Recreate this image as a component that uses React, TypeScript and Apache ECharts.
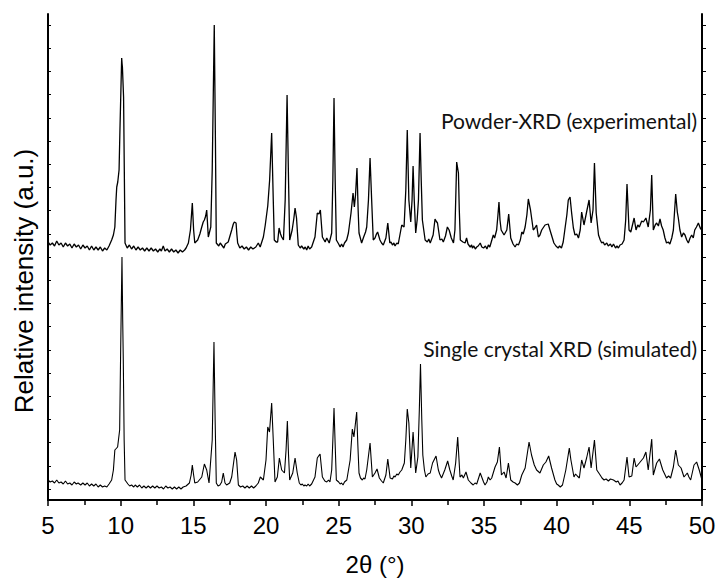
import React, { useEffect, useRef } from "react";
import * as echarts from "echarts";

// 2θ (°) vs relative intensity (a.u.)
const powderPattern: [number, number][] = [
  [5.0,258],[5.15,255],[5.3,257],[5.45,254],[5.6,259],[5.75,255],[5.9,257],[6.05,253],[6.2,257],[6.35,254],[6.5,256],[6.65,252],[6.8,256],[6.95,253],[7.1,255],[7.25,251],[7.4,255],[7.55,252],[7.7,254],[7.85,250],[8.0,254],[8.15,250],[8.3,253],[8.45,250],[8.6,253],[8.75,249],[8.9,252],[9.05,250],[9.2,254],
  [9.38,260],[9.5,265],[9.6,273],[9.68,300],[9.73,313],[9.8,318],[9.89,330],[9.95,370],[10.07,442],[10.1,436],[10.12,433],[10.2,403],[10.25,330],[10.3,257],
  [10.45,252],[10.6,255],[10.75,251],[10.9,254],[11.05,250],[11.2,253],[11.35,250],[11.5,252],[11.65,249],[11.8,252],[11.95,249],[12.1,252],[12.25,249],[12.4,251],[12.55,248],[12.7,251],[12.8,249],[12.93,254],[13.05,249],[13.2,251],[13.35,248],[13.5,251],[13.65,248],[13.8,250],[13.95,247],[14.1,250],[14.25,248],[14.4,250],[14.5,252],
  [14.66,257],[14.8,270],[14.93,297],[15.02,270],[15.1,257],[15.3,260],[15.45,266],[15.58,273],[15.68,278],[15.76,280],[15.85,284],[15.92,290],[15.97,278],[16.03,263],
  [16.2,273],[16.3,330],[16.44,475],[16.52,360],[16.58,257],[16.75,254],[16.85,257],[16.95,255],[17.1,252],[17.2,256],[17.4,258],[17.64,270],[17.75,276],[17.82,278],[17.94,277],[18.0,265],[18.05,257],
  [18.2,252],[18.35,254],[18.5,251],[18.65,253],[18.8,250],[18.95,253],[19.1,251],[19.3,253],[19.47,257],[19.6,253],[19.82,263],[19.95,275],[20.12,294],[20.25,320],[20.39,367],[20.5,300],[20.57,260],
  [20.7,258],[20.8,258],[20.9,272],[21.0,266],[21.08,263],[21.2,260],[21.32,300],[21.45,405],[21.55,320],[21.63,260],[21.8,270],[21.92,282],[22.0,292],[22.1,282],[22.22,255],
  [22.35,252],[22.45,254],[22.6,251],[22.7,253],[22.8,250],[22.9,254],[23.0,251],[23.14,253],[23.37,263],[23.53,287],[23.64,286],[23.74,290],[23.88,263],[24.07,258],[24.18,262],[24.35,257],[24.52,267],[24.6,320],[24.68,402],[24.76,320],[24.84,260],
  [25.0,256],[25.1,253],[25.2,256],[25.3,253],[25.4,257],[25.55,260],[25.67,267],[25.85,287],[25.99,307],[26.08,293],[26.16,305],[26.26,332],[26.34,290],[26.4,267],[26.58,257],[26.72,263],[26.85,268],[26.93,273],
  [27.05,300],[27.16,342],[27.27,300],[27.38,260],[27.5,262],[27.6,266],[27.68,268],[27.84,260],[27.95,257],[28.07,255],[28.25,262],[28.38,277],[28.52,257],[28.6,258],[28.7,255],[28.8,257],[28.88,254],[29.0,257],[29.1,256],
  [29.34,275],[29.5,273],[29.62,310],[29.72,370],[29.83,300],[29.96,278],[30.05,300],[30.12,334],[30.2,300],[30.3,267],[30.4,280],[30.49,300],[30.6,367],[30.68,320],[30.76,280],
  [30.95,260],[31.1,258],[31.2,261],[31.3,257],[31.5,265],[31.63,281],[31.7,279],[31.8,277],[31.97,260],[32.1,261],[32.2,258],[32.35,264],[32.48,273],[32.6,270],[32.75,262],[32.9,257],
  [33.0,270],[33.12,338],[33.24,327],[33.3,290],[33.37,260],[33.55,258],[33.7,257],[33.8,262],[33.9,256],[34.05,253],[34.15,255],[34.2,252],[34.3,254],[34.4,251],[34.5,253],[34.6,254],[34.74,257],[34.85,253],[34.97,252],
  [35.1,254],[35.2,251],[35.3,255],[35.4,253],[35.5,258],[35.64,265],[35.73,262],[35.87,270],[35.96,285],[36.03,298],[36.1,280],[36.18,270],[36.38,265],[36.57,270],[36.7,286],[36.84,262],[37.0,256],[37.14,253],
  [37.25,256],[37.37,255],[37.5,260],[37.6,268],[37.7,266],[37.83,273],[37.95,285],[38.05,301],[38.2,290],[38.39,270],[38.5,272],[38.62,275],[38.74,263],[38.85,265],[38.97,270],[39.2,275],[39.42,276],[39.58,268],[39.81,257],
  [39.95,254],[40.1,252],[40.2,254],[40.33,252],[40.45,258],[40.56,270],[40.7,285],[40.8,300],[40.92,303],[41.03,287],[41.15,272],[41.26,265],[41.38,266],[41.5,262],[41.62,270],[41.72,288],[41.88,275],[42.06,288],[42.23,300],[42.37,277],[42.5,290],
  [42.6,337],[42.72,287],[42.88,265],[43.0,260],[43.1,257],[43.2,258],[43.3,255],[43.45,257],[43.55,254],[43.7,256],[43.8,253],[43.91,256],[44.05,252],[44.15,254],[44.25,252],[44.36,255],[44.5,256],[44.64,260],[44.75,280],[44.84,316],[44.98,270],[45.1,268],
  [45.2,274],[45.33,282],[45.46,270],[45.58,275],[45.69,273],[45.85,279],[45.97,278],[46.14,282],[46.3,273],[46.45,290],[46.54,325],[46.65,270],[46.78,275],[46.88,277],[47.0,274],[47.11,281],[47.22,274],[47.33,270],[47.45,262],[47.56,257],[47.68,258],[47.79,256],
  [47.92,262],[48.03,270],[48.19,306],[48.3,288],[48.37,282],[48.48,270],[48.6,263],[48.72,267],[48.83,265],[48.95,260],[49.06,257],[49.18,262],[49.29,265],[49.4,262],[49.5,270],[49.62,273],[49.75,277],[49.88,272],[49.98,270],[50.0,252]
];

const simulatedPattern: [number, number][] = [
  [5.0,20],[5.15,18],[5.3,19],[5.45,17],[5.6,20],[5.75,17],[5.9,18],[6.05,16],[6.2,19],[6.35,16],[6.5,17],[6.65,15],[6.8,18],[6.95,16],[7.07,17],[7.25,15],[7.4,17],[7.55,15],[7.7,17],[7.85,14],[8.0,16],[8.15,14],[8.3,16],[8.45,13],[8.6,15],[8.75,13],[8.9,14],[9.05,13],[9.2,16],
  [9.38,20],[9.5,30],[9.6,50],[9.79,53],[9.93,70],[10.0,150],[10.09,243],[10.14,180],[10.18,140],[10.24,60],[10.3,20],
  [10.5,16],[10.62,14],[10.75,15],[10.9,13],[11.0,15],[11.15,13],[11.3,15],[11.45,12],[11.6,14],[11.75,12],[11.9,14],[12.05,12],[12.2,14],[12.35,12],[12.5,14],[12.65,12],[12.8,13],[12.95,11],[13.1,14],[13.25,12],[13.4,13],[13.55,11],[13.7,13],[13.85,11],[14.0,13],[14.15,11],[14.3,13],[14.5,14],
  [14.73,17],[14.85,25],[14.93,35],[15.02,25],[15.1,17],[15.3,18],[15.58,23],[15.76,36],[15.92,30],[16.08,17],[16.3,60],[16.42,158],[16.5,80],[16.58,17],
  [16.7,14],[16.83,15],[16.95,18],[17.06,27],[17.18,17],[17.29,15],[17.5,17],[17.64,23],[17.87,48],[17.98,40],[18.1,15],[18.25,13],[18.4,14],[18.55,12],[18.7,14],[18.85,12],[19.0,14],[19.15,12],[19.3,14],[19.47,17],[19.61,23],[19.82,20],
  [20.0,40],[20.12,73],[20.24,68],[20.39,97],[20.5,60],[20.62,18],[20.78,23],[20.92,42],[21.08,30],[21.27,27],[21.38,50],[21.47,79],[21.55,45],[21.63,20],
  [21.84,27],[22.0,42],[22.15,27],[22.29,17],[22.4,15],[22.5,16],[22.6,14],[22.68,15],[22.8,14],[22.9,16],[23.0,14],[23.14,16],[23.37,23],[23.53,42],[23.62,44],[23.72,46],[23.88,23],[24.05,19],[24.18,18],[24.3,20],[24.4,18],
  [24.52,30],[24.6,60],[24.68,92],[24.76,55],[24.84,20],[25.0,18],[25.1,16],[25.2,17],[25.3,15],[25.4,18],[25.56,20],[25.79,40],[25.94,71],[26.05,63],[26.24,88],[26.32,55],[26.4,27],
  [26.5,22],[26.63,20],[26.72,22],[26.81,21],[26.93,30],[27.16,57],[27.32,23],[27.5,27],[27.64,31],[27.8,22],[27.95,19],[28.07,17],[28.25,25],[28.38,41],[28.54,22],[28.7,21],[28.8,24],[28.88,23],[29.0,26],[29.1,25],
  [29.22,28],[29.34,30],[29.52,37],[29.62,60],[29.72,91],[29.83,77],[29.96,32],[30.12,68],[30.3,27],[30.45,43],[30.55,90],[30.63,136],[30.72,80],[30.79,45],[30.9,30],[31.0,23],
  [31.15,26],[31.3,27],[31.46,37],[31.7,44],[31.86,30],[31.95,26],[32.08,22],[32.3,30],[32.5,39],[32.65,30],[32.78,24],[32.88,20],[33.05,37],[33.19,63],[33.35,23],[33.48,25],[33.58,22],[33.76,28],[33.92,20],
  [34.1,17],[34.26,15],[34.38,17],[34.5,16],[34.74,27],[34.97,18],[35.07,15],[35.2,18],[35.3,23],[35.42,20],[35.53,22],[35.76,33],[35.92,38],[36.06,53],[36.2,25],[36.38,28],[36.52,22],[36.68,37],[36.84,20],
  [37.0,18],[37.14,17],[37.3,15],[37.44,17],[37.6,25],[37.83,32],[38.1,58],[38.27,45],[38.46,35],[38.62,30],[38.85,27],[39.08,35],[39.26,38],[39.45,44],[39.65,32],[39.88,20],
  [40.0,16],[40.1,15],[40.25,13],[40.4,15],[40.63,30],[40.87,52],[40.98,40],[41.19,23],[41.3,26],[41.42,24],[41.56,22],[41.72,40],[41.88,32],[42.06,42],[42.23,53],[42.37,32],[42.6,60],[42.76,30],
  [42.99,25],[43.12,22],[43.26,20],[43.4,21],[43.56,19],[43.7,21],[43.91,20],[44.1,18],[44.22,19],[44.36,15],[44.5,17],[44.64,20],[44.84,43],[44.98,23],[45.17,24],[45.33,42],[45.46,33],[45.69,37],[45.97,42],[46.14,48],
  [46.3,30],[46.54,61],[46.65,25],[46.88,37],[47.07,41],[47.3,30],[47.56,22],[47.7,24],[47.84,22],[48.03,33],[48.19,50],[48.37,35],[48.56,32],[48.76,23],[48.99,27],[49.1,23],[49.22,20],
  [49.45,35],[49.63,38],[49.81,30],[50.0,20]
];

const yTickValues = [11, 34.2, 57.4, 80.6, 103.8, 127, 150.2, 173.4, 196.6, 219.8, 243, 266.2, 289.4, 312.6, 335.8, 359, 382.2, 405.4, 428.6, 451.8, 475];
const seriesLabels = ["Powder-XRD (experimental)", "Single crystal XRD (simulated)"];
const yAxisTitle = "Relative intensity (a.u.)";
const xAxisTitle = "2θ (°)";

export default function App() {
  const ref = useRef<HTMLDivElement>(null);
  useEffect(() => {
    if (!ref.current) return;
    const chart = echarts.init(ref.current, null, { renderer: "svg" });
    const axisFont = "'Liberation Sans', Arial, sans-serif";
    const noteFont = "Lato, 'Open Sans', sans-serif";
    chart.setOption({
      animation: false,
      backgroundColor: "#ffffff",
      grid: { left: 48, right: 15, top: 14, bottom: 79, containLabel: false, outerBoundsMode: "none" },
      xAxis: [
        {
          type: "value",
          position: "bottom",
          min: 5,
          max: 50,
          interval: 5,
          axisLine: { show: true, lineStyle: { color: "#000", width: 2 } },
          axisTick: { show: true, inside: false, length: 6, lineStyle: { color: "#000", width: 1.5 } },
          minorTick: { show: true, splitNumber: 2, length: 5, lineStyle: { color: "#000", width: 1.5 } },
          splitLine: { show: false },
          axisLabel: {
            show: true,
            margin: 13,
            color: "#000",
            fontSize: 24,
            fontFamily: axisFont,
          },
          name: xAxisTitle,
          nameLocation: "middle",
          nameGap: 52,
          nameTextStyle: { color: "#000", fontSize: 24, fontFamily: axisFont },
        },
        {
          type: "value",
          position: "top",
          min: 5,
          max: 50,
          axisLine: { show: true, lineStyle: { color: "#000", width: 2 } },
          axisTick: { show: false },
          axisLabel: { show: false },
          splitLine: { show: false },
        },
      ],
      yAxis: [
        {
          type: "value",
          position: "left",
          min: 0,
          max: 486,
          axisLine: { show: true, lineStyle: { color: "#000", width: 2 } },
          axisTick: { show: true, inside: true, length: 3, lineStyle: { color: "#000", width: 1 }, customValues: yTickValues },
          axisLabel: { show: false },
          splitLine: { show: false },
        },
        {
          type: "value",
          position: "right",
          min: 0,
          max: 486,
          axisLine: { show: true, lineStyle: { color: "#000", width: 2 } },
          axisTick: { show: true, inside: false, length: 4, lineStyle: { color: "#000", width: 1 }, customValues: yTickValues },
          axisLabel: { show: false },
          splitLine: { show: false },
        },
      ],
      series: [
        {
          name: seriesLabels[0],
          type: "line",
          data: powderPattern,
          showSymbol: false,
          symbol: "none",
          lineStyle: { color: "#000", width: 1.3 },
          xAxisIndex: 0,
          yAxisIndex: 0,
        },
        {
          name: seriesLabels[1],
          type: "line",
          data: simulatedPattern,
          showSymbol: false,
          symbol: "none",
          lineStyle: { color: "#000", width: 1.1 },
          xAxisIndex: 0,
          yAxisIndex: 0,
        },
      ],
      graphic: [
        {
          type: "text",
          x: 24,
          y: 281,
          rotation: Math.PI / 2,
          style: {
            text: yAxisTitle,
            fill: "#000",
            fontSize: 26,
            fontFamily: axisFont,
            textAlign: "center",
            textVerticalAlign: "middle",
          },
        },
        {
          type: "text",
          right: 20,
          top: 110,
          style: { text: seriesLabels[0], fill: "#111", fontSize: 21, fontFamily: noteFont, textVerticalAlign: "top" },
        },
        {
          type: "text",
          right: 20,
          top: 338,
          style: { text: seriesLabels[1], fill: "#111", fontSize: 21, fontFamily: noteFont, textVerticalAlign: "top" },
        },
      ],
    });
    return () => chart.dispose();
  }, []);
  return <div ref={ref} style={{ position: "fixed", left: 0, top: 0, width: 717, height: 579 }} />;
}
